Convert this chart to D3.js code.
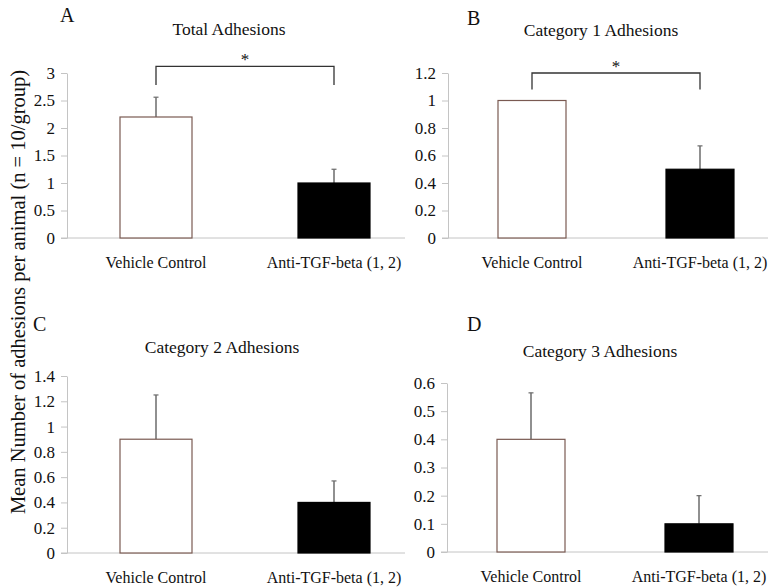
<!DOCTYPE html>
<html>
<head>
<meta charset="utf-8">
<script src="https://cdn.jsdelivr.net/npm/d3@7"></script>
<style>
  html, body { margin: 0; padding: 0; background: #fff; }
  .chart { width: 770px; height: 588px; }
  text { font-family: "Liberation Serif", Tinos, "Times New Roman", Times, "DejaVu Serif", serif; fill: #111; }
</style>
</head>
<body>
<div class="chart"></div>
<script>
// data
const groups = ['Vehicle Control', 'Anti-TGF-beta (1, 2)'];
const panelLetters = ['A', 'B', 'C', 'D'];
const panelTitles = ['Total Adhesions', 'Category 1 Adhesions', 'Category 2 Adhesions', 'Category 3 Adhesions'];
const means = [[2.2, 1.0], [1.0, 0.5], [0.9, 0.4], [0.4, 0.1]];
const errors = [[0.36, 0.25], [0, 0.17], [0.35, 0.17], [0.165, 0.1]];
const yTicks = [
  [0, 0.5, 1, 1.5, 2, 2.5, 3],
  [0, 0.2, 0.4, 0.6, 0.8, 1, 1.2],
  [0, 0.2, 0.4, 0.6, 0.8, 1, 1.2, 1.4],
  [0, 0.1, 0.2, 0.3, 0.4, 0.5, 0.6]
];
// significance bracket: [top level, drop level] or null
const brackets = [[3.12, 2.78], [1.2, 1.08], null, null];
const yLabel = 'Mean Number of adhesions per animal (n = 10/group)';

const config = {
  width: 770,
  height: 588,
  panels: [
    { x: 67, top: 73, bottom: 238, step: 178, barW: 72, axisEnd: 405, letterX: 60, letterY: 22, titleX: 229, titleY: 35 },
    { x: 448, top: 73, bottom: 238, step: 168, barW: 68, axisEnd: 768, letterX: 467, letterY: 25, titleX: 601, titleY: 36 },
    { x: 67, top: 376, bottom: 553, step: 178, barW: 72, axisEnd: 405, letterX: 33, letterY: 331, titleX: 222, titleY: 353 },
    { x: 447, top: 383, bottom: 552, step: 168, barW: 68, axisEnd: 768, letterX: 467, letterY: 331, titleX: 600, titleY: 357 }
  ]
};

const axisColor = '#c4c4c4';
const errColor = '#6b6b6b';

const svg = d3.select('.chart')
  .append('svg')
  .attr('width', config.width)
  .attr('height', config.height);

svg.append('text')
  .attr('transform', 'translate(25,292) rotate(-90)')
  .attr('text-anchor', 'middle')
  .attr('font-size', 20.5)
  .text(yLabel);

config.panels.forEach((p, i) => {
  const g = svg.append('g');

  const y = d3.scaleLinear()
    .domain([0, d3.max(yTicks[i])])
    .range([p.bottom, p.top]);

  const x = d3.scaleBand()
    .domain(groups)
    .range([p.x, p.x + p.step * groups.length])
    .paddingInner(1 - p.barW / p.step)
    .paddingOuter((1 - p.barW / p.step) / 2);

  // panel letter and title
  g.append('text')
    .attr('x', p.letterX)
    .attr('y', p.letterY)
    .attr('font-size', 20)
    .text(panelLetters[i]);

  g.append('text')
    .attr('x', p.titleX)
    .attr('y', p.titleY)
    .attr('text-anchor', 'middle')
    .attr('font-size', 17.5)
    .text(panelTitles[i]);

  // y axis
  const yAxis = g.append('g')
    .attr('transform', `translate(${p.x},0)`)
    .call(d3.axisLeft(y)
      .tickValues(yTicks[i])
      .tickFormat(d => String(d))
      .tickSize(6)
      .tickSizeOuter(0)
      .tickPadding(6));
  yAxis.select('.domain').attr('stroke', axisColor);
  yAxis.selectAll('.tick line').attr('stroke', axisColor);
  yAxis.selectAll('.tick text').attr('font-size', 17);

  // x axis line
  g.append('line')
    .attr('x1', p.x - 6)
    .attr('x2', p.axisEnd)
    .attr('y1', y(0))
    .attr('y2', y(0))
    .attr('stroke', axisColor);

  const xAxis = g.append('g')
    .attr('transform', `translate(0,${y(0)})`)
    .call(d3.axisBottom(x).tickSize(0).tickPadding(19));
  xAxis.select('.domain').remove();
  xAxis.selectAll('.tick text').attr('font-size', 16);

  const rows = groups.map((name, j) => ({ name, mean: means[i][j], err: errors[i][j], j }));

  // error bars (upper half only, bar hides the rest)
  const eb = g.append('g')
    .selectAll('g')
    .data(rows.filter(d => d.err > 0))
    .enter()
    .append('g');

  eb.append('line')
    .attr('x1', d => x(d.name) + x.bandwidth() / 2)
    .attr('x2', d => x(d.name) + x.bandwidth() / 2)
    .attr('y1', d => y(d.mean))
    .attr('y2', d => y(d.mean + d.err))
    .attr('stroke', errColor)
    .attr('stroke-width', 1.5);

  eb.append('line')
    .attr('x1', d => x(d.name) + x.bandwidth() / 2 - 2.5)
    .attr('x2', d => x(d.name) + x.bandwidth() / 2 + 2.5)
    .attr('y1', d => y(d.mean + d.err))
    .attr('y2', d => y(d.mean + d.err))
    .attr('stroke', errColor)
    .attr('stroke-width', 1.2);

  // bars
  g.append('g')
    .selectAll('rect')
    .data(rows)
    .enter()
    .append('rect')
    .attr('x', d => x(d.name))
    .attr('y', d => y(d.mean))
    .attr('width', x.bandwidth())
    .attr('height', d => y(0) - y(d.mean))
    .attr('fill', d => d.j === 0 ? '#fff' : '#000')
    .attr('stroke', d => d.j === 0 ? '#7a5a52' : '#000')
    .attr('stroke-width', 1.2);

  // significance bracket
  if (brackets[i]) {
    const [top, drop] = brackets[i];
    const x0 = x(groups[0]) + x.bandwidth() / 2;
    const x1 = x(groups[1]) + x.bandwidth() / 2;
    g.append('path')
      .attr('d', `M${x0},${y(drop)}V${y(top)}H${x1}V${y(drop)}`)
      .attr('fill', 'none')
      .attr('stroke', '#333')
      .attr('stroke-width', 1.3);
    g.append('text')
      .attr('x', (x0 + x1) / 2)
      .attr('y', y(top) - 1)
      .attr('text-anchor', 'middle')
      .attr('font-size', 17)
      .text('*');
  }
});
</script>
</body>
</html>
